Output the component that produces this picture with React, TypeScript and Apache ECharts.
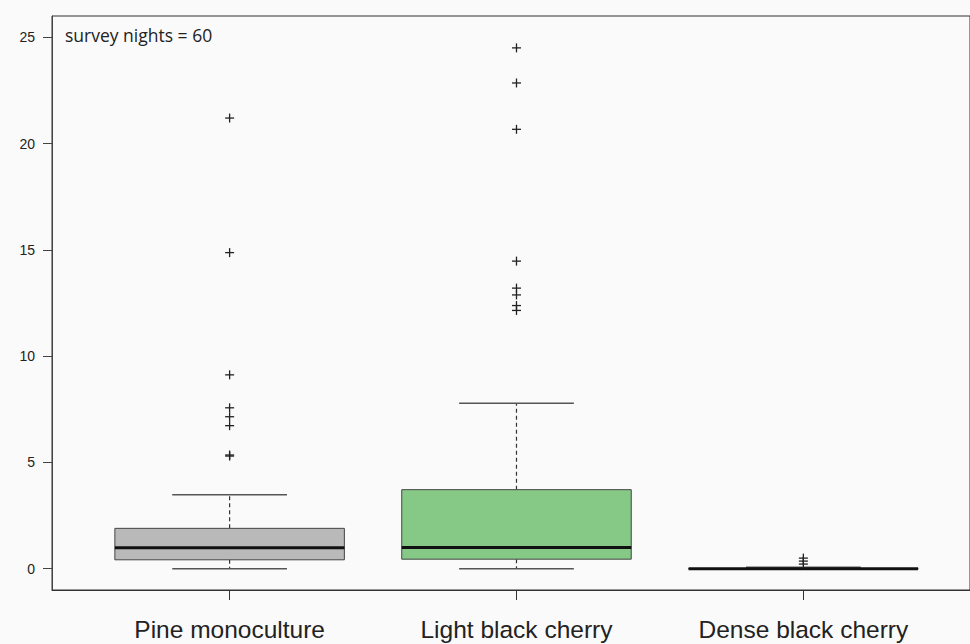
import React, { useEffect, useRef } from "react";
import * as echarts from "echarts";

const categories = ["Pine monoculture", "Light black cherry", "Dense black cherry"];
// [lower whisker, Q1, median, Q3, upper whisker]
const pineStats = [0, 0.42, 0.99, 1.9, 3.48];
const lightStats = [0, 0.45, 1.0, 3.72, 7.78];
const denseStats = [0, 0, 0, 0.01, 0.07];
const pineOutliers = [21.2, 14.87, 9.12, 7.57, 7.15, 6.73, 5.35, 5.3];
const lightOutliers = [24.5, 22.85, 20.67, 14.47, 13.2, 12.88, 12.38, 12.15];
const denseOutliers = [0.5, 0.36, 0.22];
const yTicks = [0, 5, 10, 15, 20, 25];
const fills = ["#b9b9b9", "#86c987", "#b9b9b9"];
const annotation = "survey nights = 60";

export default function App() {
  const ref = useRef<HTMLDivElement>(null);
  useEffect(() => {
    if (!ref.current) return;
    const chart = echarts.init(ref.current, null, { renderer: "svg" });
    const stats = [pineStats, lightStats, denseStats];
    const boxData = stats.map((s, i) => [i + 1, ...s]);
    const outData: number[][] = [];
    [pineOutliers, lightOutliers, denseOutliers].forEach((arr, i) =>
      arr.forEach((v) => outData.push([i + 1, v]))
    );
    const xMin = 1 - 178 / 287.5;
    const xMax = xMin + 920 / 287.5;

    chart.setOption({
      animation: false,
      backgroundColor: "#fafafa",
      grid: {
        left: 52,
        right: -2,
        top: 16,
        bottom: 54,
        show: true,
        borderColor: "#333",
        borderWidth: 1,
        backgroundColor: "transparent",
      },
      xAxis: {
        type: "value",
        min: xMin,
        max: xMax,
        splitLine: { show: false },
        axisLine: { show: true, onZero: false, lineStyle: { color: "#333", width: 1 } },
        axisTick: {
          show: true,
          length: 10,
          customValues: [1, 2, 3],
          lineStyle: { color: "#333" },
        },
        axisLabel: {
          customValues: [1, 2, 3],
          formatter: (v: number) => categories[Math.round(v) - 1] ?? "",
          fontFamily: "Liberation Sans",
          fontSize: 24.5,
          color: "#222",
          margin: 27,
        },
      },
      yAxis: {
        type: "value",
        min: -1,
        max: 26,
        splitLine: { show: false },
        axisLine: { show: true, onZero: false, lineStyle: { color: "#444", width: 1 } },
        axisTick: {
          show: true,
          length: 9,
          customValues: yTicks,
          lineStyle: { color: "#444" },
        },
        axisLabel: {
          customValues: yTicks,
          fontFamily: "Liberation Sans",
          fontSize: 14,
          color: "#222",
          margin: 17,
        },
      },
      graphic: [
        {
          type: "text",
          left: 65,
          top: 26,
          style: {
            text: annotation,
            font: "17.5px 'Open Sans'",
            fill: "#222",
          },
        },
      ],
      series: [
        {
          type: "custom",
          data: boxData,
          encode: { x: 0, y: [1, 2, 3, 4, 5] },
          renderItem: (params: any, api: any) => {
            const x = api.value(0);
            const lo = api.value(1);
            const q1 = api.value(2);
            const med = api.value(3);
            const q3 = api.value(4);
            const hi = api.value(5);
            const bw = api.size([0.8, 0])[0];
            const cw = api.size([0.4, 0])[0];
            const pLo = api.coord([x, lo]);
            const pQ1 = api.coord([x, q1]);
            const pMed = api.coord([x, med]);
            const pQ3 = api.coord([x, q3]);
            const pHi = api.coord([x, hi]);
            const cx = pMed[0];
            const idx = params.dataIndex;
            return {
              type: "group",
              children: [
                {
                  type: "line",
                  shape: { x1: cx, y1: pQ3[1], x2: cx, y2: pHi[1] },
                  style: { stroke: "#333", lineWidth: 1.2, lineDash: [4, 3] },
                },
                {
                  type: "line",
                  shape: { x1: cx, y1: pQ1[1], x2: cx, y2: pLo[1] },
                  style: { stroke: "#333", lineWidth: 1.2, lineDash: [4, 3] },
                },
                {
                  type: "line",
                  shape: { x1: cx - cw / 2, y1: pHi[1], x2: cx + cw / 2, y2: pHi[1] },
                  style: { stroke: "#555", lineWidth: 1.5 },
                },
                {
                  type: "line",
                  shape: { x1: cx - cw / 2, y1: pLo[1], x2: cx + cw / 2, y2: pLo[1] },
                  style: { stroke: "#555", lineWidth: 1.5 },
                },
                {
                  type: "rect",
                  shape: {
                    x: cx - bw / 2,
                    y: pQ3[1],
                    width: bw,
                    height: Math.max(pQ1[1] - pQ3[1], 0.5),
                  },
                  style: { fill: fills[idx], stroke: "#444", lineWidth: 1 },
                },
                {
                  type: "line",
                  shape: { x1: cx - bw / 2, y1: pMed[1], x2: cx + bw / 2, y2: pMed[1] },
                  style: { stroke: "#111", lineWidth: 3 },
                },
              ],
            };
          },
          z: 2,
        },
        {
          type: "custom",
          data: outData,
          encode: { x: 0, y: 1 },
          renderItem: (params: any, api: any) => {
            const p = api.coord([api.value(0), api.value(1)]);
            const s = 4.5;
            return {
              type: "group",
              children: [
                {
                  type: "line",
                  shape: { x1: p[0] - s, y1: p[1], x2: p[0] + s, y2: p[1] },
                  style: { stroke: "#222", lineWidth: 1.3 },
                },
                {
                  type: "line",
                  shape: { x1: p[0], y1: p[1] - s, x2: p[0], y2: p[1] + s },
                  style: { stroke: "#222", lineWidth: 1.3 },
                },
              ],
            };
          },
          z: 3,
        },
      ],
    });
    return () => chart.dispose();
  }, []);
  return (
    <div
      ref={ref}
      style={{ position: "fixed", left: 0, top: 0, width: 970, height: 644 }}
    />
  );
}
